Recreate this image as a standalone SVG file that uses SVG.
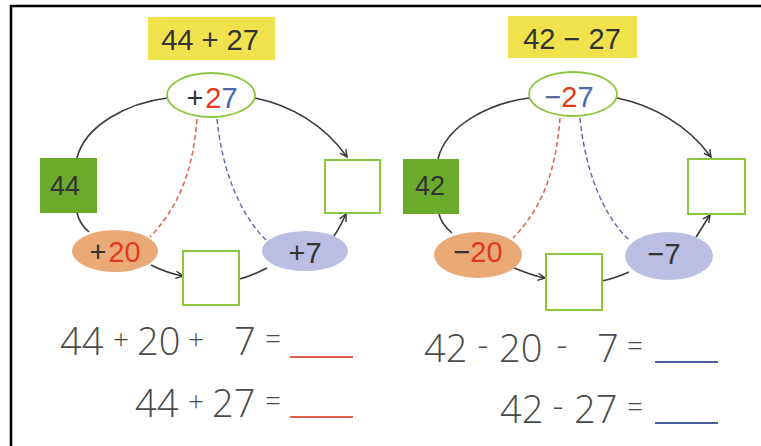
<svg xmlns="http://www.w3.org/2000/svg" width="761" height="446" viewBox="0 0 761 446">
<style>
.lbl{font-family:"Liberation Sans",Arial,sans-serif;fill:#333;}
.yel{fill:#f0e24c;}
.gbox{fill:#6aab2c;}
.box{fill:#fff;stroke:#8cc63e;stroke-width:2;}
.top{fill:#fff;stroke:#8cc63e;stroke-width:1.8;}
.org{fill:#eaaa78;}
.lav{fill:#bcbde2;}
.arc{fill:none;stroke:#3a3a3a;stroke-width:1.6;}
.red{fill:none;stroke:#e06a50;stroke-width:1.6;stroke-dasharray:5 3;}
.blu{fill:none;stroke:#5a6aa8;stroke-width:1.4;stroke-dasharray:5 3;}
.eq{font-family:"Open Sans","DejaVu Sans",sans-serif;font-weight:300;fill:#4a4a4a;font-size:38px;}
.op{font-family:"Open Sans","DejaVu Sans",sans-serif;font-weight:300;fill:#4a4a4a;font-size:28px;text-anchor:middle;}
.mn{font-family:"Open Sans","DejaVu Sans",sans-serif;font-weight:300;fill:#4a4a4a;font-size:34px;text-anchor:middle;}
.r{fill:#e23a1c;}
.b{fill:#4a67b0;}
</style>
<defs>
<marker id="ah" viewBox="0 0 10 10" refX="9" refY="5" markerWidth="9" markerHeight="9" markerUnits="userSpaceOnUse" orient="auto">
<path d="M1,1 L9,5 L1,9" fill="none" stroke="#3a3a3a" stroke-width="1.6"/>
</marker>
</defs>
<rect x="0" y="0" width="761" height="446" fill="#fff"/>
<path d="M10 6 H761 M11 5 V446" stroke="#000" stroke-width="2.5" fill="none"/>

<g id="connectors">
<path class="arc" d="M77 158 C85 125 128 103 167 98"/>
<path class="arc" d="M255 98 C290 105 325 125 347 157" marker-end="url(#ah)"/>
<path class="arc" d="M77 213 C79 221 83 227 89 232"/>
<path class="arc" d="M151 265 C161 270 171 274 183 276" marker-end="url(#ah)"/>
<path class="arc" d="M239 279 C249 277 257 273 267 268"/>
<path class="arc" d="M334 236 C339 229 342 222 346 214" marker-end="url(#ah)"/>
<path class="red" d="M197 119 C193 170 180 205 150 237"/>
<path class="blu" d="M217 119 C222 170 240 215 267 241"/>

<path class="arc" d="M438 159 C446 125 490 103 529 98"/>
<path class="arc" d="M617 98 C652 105 688 125 711 157" marker-end="url(#ah)"/>
<path class="arc" d="M439 214 C441 222 446 228 452 233"/>
<path class="arc" d="M514 268 C524 272 533 276 545 278" marker-end="url(#ah)"/>
<path class="arc" d="M602 281 C612 279 620 276 629 272"/>
<path class="arc" d="M696 237 C701 230 705 222 710 215" marker-end="url(#ah)"/>
<path class="red" d="M560 118 C556 170 543 207 513 238"/>
<path class="blu" d="M580 118 C585 170 603 216 630 241"/>
</g>

<g id="title-left">
<rect class="yel" x="148" y="17" width="127" height="43"/>
<text class="lbl" x="210" y="50" font-size="29" text-anchor="middle">44 + 27</text>
</g>
<g id="op-left">
<ellipse class="top" cx="211" cy="95" rx="44" ry="22"/>
<text class="lbl" x="212" y="108" font-size="29" text-anchor="middle">+<tspan dx="2" class="r">2</tspan><tspan class="b">7</tspan></text>
</g>
<g id="start-left">
<rect class="gbox" x="40" y="158" width="57" height="55"/>
<text class="lbl" x="65" y="195" font-size="27" text-anchor="middle" fill="#2c3518">44</text>
</g>
<g id="step1-left">
<ellipse class="org" cx="115" cy="251" rx="43" ry="21"/>
<text class="lbl" x="115" y="262" font-size="29" text-anchor="middle">+<tspan dx="2" class="r">20</tspan></text>
</g>
<g id="mid-left">
<rect class="box" x="183" y="251" width="56" height="54"/>
</g>
<g id="step2-left">
<ellipse class="lav" cx="305" cy="251" rx="43" ry="20"/>
<text class="lbl" x="305" y="263" font-size="29" text-anchor="middle">+7</text>
</g>
<g id="end-left">
<rect class="box" x="325" y="160" width="55" height="53"/>
</g>

<g id="title-right">
<rect class="yel" x="508" y="16" width="129" height="42"/>
<text class="lbl" x="572" y="49" font-size="29" text-anchor="middle">42 − 27</text>
</g>
<g id="op-right">
<ellipse class="top" cx="573" cy="94" rx="44" ry="22"/>
<text class="lbl" x="569" y="107" font-size="29" text-anchor="middle"><tspan fill="#5a6a9a">−</tspan><tspan class="r">2</tspan><tspan class="b">7</tspan></text>
</g>
<g id="start-right">
<rect class="gbox" x="403" y="159" width="56" height="55"/>
<text class="lbl" x="430" y="195" font-size="27" text-anchor="middle" fill="#2c3518">42</text>
</g>
<g id="step1-right">
<ellipse class="org" cx="478" cy="255" rx="44" ry="23"/>
<text class="lbl" x="478" y="262" font-size="29" text-anchor="middle">−<tspan class="r">20</tspan></text>
</g>
<g id="mid-right">
<rect class="box" x="546" y="254" width="56" height="56"/>
</g>
<g id="step2-right">
<ellipse class="lav" cx="669" cy="256" rx="44" ry="24"/>
<text class="lbl" x="664" y="264" font-size="29" text-anchor="middle" fill="#2f3550">−7</text>
</g>
<g id="end-right">
<rect class="box" x="688" y="159" width="57" height="55"/>
</g>

<g id="equations">
<text class="eq" x="60" y="355">44</text>
<text class="op" x="121" y="349">+</text>
<text class="eq" x="137" y="355">20</text>
<text class="op" x="196" y="349">+</text>
<text class="eq" x="234" y="355">7</text>
<text class="op" x="273" y="349">=</text>
<path d="M290 357 H353" stroke="#e0604a" stroke-width="2"/>

<text class="eq" x="135" y="417">44</text>
<text class="op" x="196" y="411">+</text>
<text class="eq" x="212" y="417">27</text>
<text class="op" x="273" y="411">=</text>
<path d="M290 417 H353" stroke="#e0604a" stroke-width="2"/>

<text class="eq" x="424" y="362">42</text>
<text class="mn" x="483" y="357">-</text>
<text class="eq" x="499" y="362">20</text>
<text class="mn" x="562" y="357">-</text>
<text class="eq" x="597" y="362">7</text>
<text class="op" x="635" y="356">=</text>
<path d="M655 362 H718" stroke="#4a5f9a" stroke-width="2"/>

<text class="eq" x="500" y="423">42</text>
<text class="mn" x="558" y="418">-</text>
<text class="eq" x="574" y="423">27</text>
<text class="op" x="635" y="417">=</text>
<path d="M655 423 H718" stroke="#4a5f9a" stroke-width="2"/>
</g>
</svg>
